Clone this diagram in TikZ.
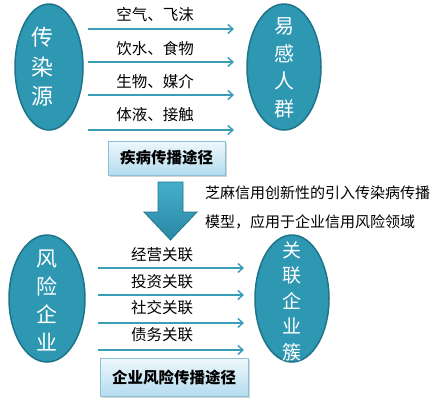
\documentclass[tikz,border=0pt]{standalone}
\usepackage{fontspec}
\setmainfont{Noto Sans CJK SC}
\usetikzlibrary{arrows.meta,shadows,shapes.geometric}
\definecolor{ellfill}{HTML}{2E97B2}
\definecolor{elldraw}{HTML}{1E7489}
\definecolor{arrcol}{HTML}{3A9EB8}
\definecolor{boxtop}{HTML}{EEF7FC}
\definecolor{boxbot}{HTML}{B3DCEF}
\definecolor{boxdraw}{HTML}{8CC0D6}
\definecolor{bigtop}{HTML}{45AECB}
\definecolor{bigbot}{HTML}{2A88A4}
\begin{document}
\begin{tikzpicture}[x=1pt,y=-1pt,
  ell/.style={ellipse,fill=ellfill,draw=elldraw,line width=1.5pt,inner sep=0pt},
  elltext/.style={text=white,align=center,inner sep=0pt},
  arr/.style={draw=arrcol,line width=1.8pt,-{Straight Barb[length=5pt,width=9pt,line width=1.5pt]}},
  lbl/.style={font=\fontsize{15.5}{18}\selectfont,inner sep=0pt,text=black},
  pathbox/.style={rectangle,draw=boxdraw,line width=0.8pt,top color=boxtop,bottom color=boxbot,
    font=\fontsize{15.5}{18}\selectfont\bfseries,inner sep=0pt,
    drop shadow={opacity=0.35,shadow xshift=1.5pt,shadow yshift=-1.5pt}},
  note/.style={font=\fontsize{15}{18}\selectfont,inner sep=0pt,anchor=west}
]
\useasboundingbox (0,0) rectangle (438,400);
% ---- top part ----
\node[ell,minimum width=68pt,minimum height=126pt] (src) at (49,67) {};
\node[elltext,font=\fontsize{22}{29.5}\selectfont] (srct) at (42,67) {传\\染\\源};
\node[ell,minimum width=74pt,minimum height=126pt] (sus) at (284,67) {};
\node[elltext,font=\fontsize{20}{27.5}\selectfont] (sust) at (284,68) {易\\感\\人\\群};

\coordinate (t1s) at (88,29);  \coordinate (t1e) at (234,29);
\coordinate (t2s) at (88,62);  \coordinate (t2e) at (234,62);
\coordinate (t3s) at (88,95);  \coordinate (t3e) at (234,95);
\coordinate (t4s) at (88,130); \coordinate (t4e) at (234,130);
\draw[arr] (t1s) -- (t1e);
\draw[arr] (t2s) -- (t2e);
\draw[arr] (t3s) -- (t3e);
\draw[arr] (t4s) -- (t4e);
\node[lbl] (l1) at (155,15) {空气、飞沫};
\node[lbl] (l2) at (155,49) {饮水、食物};
\node[lbl] (l3) at (155,82) {生物、媒介};
\node[lbl] (l4) at (155,115) {体液、接触};
\node[pathbox,minimum width=117pt,minimum height=34pt] (box1) at (166.5,158) {疾病传播途径};

% ---- big down arrow ----
\path[draw=elldraw,line width=0.8pt,top color=bigtop,bottom color=bigbot]
  (158,182) -- (183,182) -- (183,212) -- (197,212) -- (170.5,240) -- (144,212) -- (158,212) -- cycle;
\node[note] (n1) at (205,193) {芝麻信用创新性的引入传染病传播};
\node[note] (n2) at (205,222) {模型，应用于企业信用风险领域};

% ---- bottom part ----
\node[ell,minimum width=76pt,minimum height=127pt] (risk) at (47,298.5) {};
\node[elltext,font=\fontsize{21}{28}\selectfont] (riskt) at (47,300) {风\\险\\企\\业};
\node[ell,minimum width=74pt,minimum height=127pt] (clu) at (292,298.5) {};
\node[elltext,font=\fontsize{19}{25.5}\selectfont] (clut) at (292,301) {关\\联\\企\\业\\簇};

\coordinate (b1s) at (98,268); \coordinate (b1e) at (244,268);
\coordinate (b2s) at (98,295); \coordinate (b2e) at (244,295);
\coordinate (b3s) at (98,323); \coordinate (b3e) at (244,323);
\coordinate (b4s) at (98,350); \coordinate (b4e) at (244,350);
\draw[arr] (b1s) -- (b1e);
\draw[arr] (b2s) -- (b2e);
\draw[arr] (b3s) -- (b3e);
\draw[arr] (b4s) -- (b4e);
\node[lbl] (m1) at (162,255) {经营关联};
\node[lbl] (m2) at (162,282) {投资关联};
\node[lbl] (m3) at (162,308) {社交关联};
\node[lbl] (m4) at (162,335) {债务关联};
\node[pathbox,minimum width=148pt,minimum height=38pt] (box2) at (174,377.5) {企业风险传播途径};
\end{tikzpicture}
\end{document}
